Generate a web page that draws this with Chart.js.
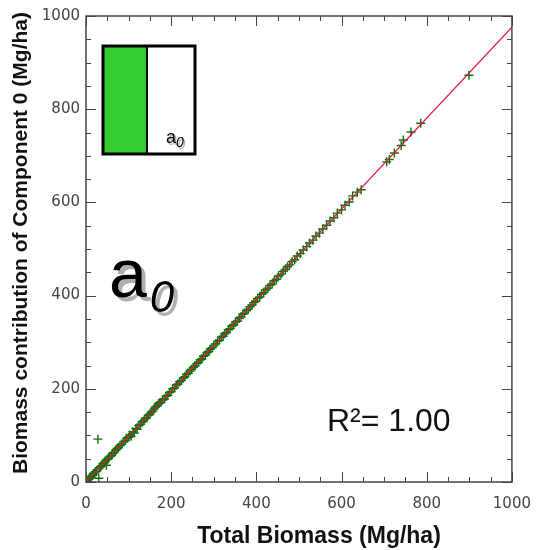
<!DOCTYPE html>
<html lang="en">
  <head>
    <meta charset="utf-8" />
    <title>Biomass contribution of Component 0</title>
    <script src="https://cdn.jsdelivr.net/npm/chart.js@4.4.1/dist/chart.umd.min.js"></script>
    <style>
      * {
        margin: 0;
        padding: 0;
      }
      body {
        width: 544px;
        height: 550px;
        background: #ffffff;
        overflow: hidden;
      }
      #plot {
        display: block;
      }
    </style>
  </head>
  <body>
    <canvas id="plot" width="544" height="550"></canvas>
    <script>
      // Total biomass (Mg/ha) for each sample
      const totalBiomass = [
        3, 5, 8, 10, 12, 15, 17, 20, 22, 25, 28, 30, 31, 34, 37, 40, 43, 45, 48, 50,
        53, 56, 60, 62, 66, 70, 73, 76, 80, 84, 88, 92, 96, 100,
        103, 106, 110, 113, 117, 120, 124, 128, 131, 135, 138, 142, 146, 150, 153, 157,
        160, 163, 167, 170, 173, 176, 180, 184, 188, 192, 196, 200,
        204, 208, 212, 216, 220, 224, 228, 232, 236, 240, 244, 248, 252, 256, 260, 264,
        268, 272, 276, 280, 284, 288, 292, 296, 300,
        305, 309, 313, 318, 322, 326, 330, 334, 338, 343, 347, 351, 355, 360, 364, 368,
        372, 377, 381, 385, 390, 394, 398,
        403, 408, 412, 417, 422, 427, 432, 437, 442, 447, 452, 458, 463, 468, 473, 478,
        484, 490, 496,
        503, 510, 518, 525, 533, 540, 548, 556, 565, 573, 582, 590, 600, 608, 618, 626,
        637, 646,
        706, 712, 724, 740, 745, 763, 786, 899
      ];
      // Biomass attributed to component 0 (Mg/ha), same order
      const component0 = [
        2, 5, 7, 11, 10, 14, 18, 19, 22, 23, 92, 8, 30, 33, 35, 40, 41, 45, 36, 49,
        51, 55, 57, 61, 63, 68, 72, 74, 78, 81, 86, 89, 94, 96,
        101, 98, 108, 105, 115, 113, 121, 124, 129, 131, 135, 138, 143, 146, 150, 152,
        157, 161, 164, 168, 170, 171, 176, 178, 184, 186, 192, 194,
        200, 202, 208, 210, 215, 218, 223, 226, 231, 233, 238, 242, 246, 249, 254, 257,
        262, 264, 270, 272, 278, 280, 285, 288, 293,
        297, 302, 304, 311, 313, 318, 321, 327, 329, 335, 338, 343, 345, 352, 354, 360,
        362, 368, 371, 376, 380, 385, 388,
        394, 397, 403, 406, 412, 416, 422, 425, 432, 435, 442, 446, 452, 456, 462, 466,
        473, 477, 485,
        490, 498, 505, 513, 519, 528, 534, 543, 551, 560, 567, 577, 584, 594, 601, 614,
        622, 627,
        687, 692, 706, 722, 734, 751, 770, 873
      ];
      // Least-squares fit line end points
      const fitX = [0, 1000];
      const fitY = [0, 976];

      const xTicks = [0, 200, 400, 600, 800, 1000];
      const yTicks = [0, 200, 400, 600, 800, 1000];
      const rSquared = "1.00";

      const scatterPoints = totalBiomass.map((v, i) => ({ x: v, y: component0[i] }));
      const fitPoints = fitX.map((v, i) => ({ x: v, y: fitY[i] }));

      const axisColor = "#444444";

      // Frame, inward ticks and all the free text of the panel
      const panelDecor = {
        id: "panelDecor",
        afterDraw(chart) {
          const { ctx, chartArea, scales } = chart;
          const { left, right, top, bottom } = chartArea;
          ctx.save();

          // frame round the plot area
          ctx.strokeStyle = axisColor;
          ctx.lineWidth = 1.5;
          ctx.strokeRect(left, top, right - left, bottom - top);

          // major ticks every 200, minor every 50, pointing inward on all four sides
          ctx.lineWidth = 1;
          for (let v = 0; v <= 1000; v += 50) {
            const len = v % 200 === 0 ? 10 : 5;
            const px = Math.round(scales.x.getPixelForValue(v)) + 0.5;
            const py = Math.round(scales.y.getPixelForValue(v)) + 0.5;
            ctx.beginPath();
            ctx.moveTo(px, bottom);
            ctx.lineTo(px, bottom - len);
            ctx.moveTo(px, top);
            ctx.lineTo(px, top + len);
            ctx.moveTo(left, py);
            ctx.lineTo(left + len, py);
            ctx.moveTo(right, py);
            ctx.lineTo(right - len, py);
            ctx.stroke();
          }

          // axis titles
          ctx.fillStyle = "#111111";
          ctx.font = "bold 23px 'Liberation Sans', Arial, sans-serif";
          ctx.textAlign = "center";
          ctx.textBaseline = "alphabetic";
          ctx.fillText("Total Biomass (Mg/ha)", 319, 543);

          ctx.save();
          ctx.translate(27, (top + bottom) / 2 - 6);
          ctx.rotate(-Math.PI / 2);
          ctx.font = "bold 21px 'Liberation Sans', Arial, sans-serif";
          ctx.fillText("Biomass contribution of Component 0 (Mg/ha)", 0, 0);
          ctx.restore();

          // component label "a" with italic subscript 0 and a grey drop shadow
          const drawLabel = (x, y, big, small, shadow) => {
            const parts = [
              ["#b0b0b0", shadow],
              ["#000000", 0]
            ];
            for (const [color, off] of parts) {
              ctx.fillStyle = color;
              ctx.textAlign = "left";
              ctx.font = big.font;
              ctx.fillText("a", x + off, y + off);
              const w = ctx.measureText("a").width;
              ctx.font = small.font;
              ctx.fillText("0", x + w + small.dx + off, y + small.dy + off);
            }
          };
          drawLabel(
            109, 297,
            { font: "68px 'Liberation Sans', Arial, sans-serif" },
            { font: "italic 44px 'Liberation Sans', Arial, sans-serif", dx: 3, dy: 15 },
            4
          );

          // legend swatch
          ctx.fillStyle = "#33cc33";
          ctx.fillRect(103, 46, 44, 108);
          ctx.strokeStyle = "#000000";
          ctx.lineWidth = 3;
          ctx.strokeRect(103, 46, 92, 108);
          ctx.lineWidth = 2;
          ctx.beginPath();
          ctx.moveTo(147, 46);
          ctx.lineTo(147, 154);
          ctx.stroke();
          drawLabel(
            166, 143,
            { font: "18px 'Liberation Sans', Arial, sans-serif" },
            { font: "italic 14px 'Liberation Sans', Arial, sans-serif", dx: 0, dy: 4 },
            1.5
          );

          // goodness of fit
          ctx.fillStyle = "#111111";
          ctx.textAlign = "left";
          ctx.font = "32px 'Liberation Sans', Arial, sans-serif";
          ctx.fillText("R\u00b2= " + rSquared, 327, 431);

          ctx.restore();
        }
      };

      const plainTick = (value) => String(value);

      new Chart(document.getElementById("plot"), {
        type: "scatter",
        plugins: [panelDecor],
        data: {
          datasets: [
            {
              type: "line",
              data: fitPoints,
              borderColor: "#e3153f",
              borderWidth: 1.2,
              pointRadius: 0,
              fill: false,
              order: 0
            },
            {
              data: scatterPoints,
              pointStyle: "cross",
              pointRadius: 4.5,
              borderColor: "#0f700f",
              borderWidth: 1.4,
              order: 1
            }
          ]
        },
        options: {
          responsive: false,
          animation: false,
          layout: { padding: { top: 16, right: 23, left: 0, bottom: 0 } },
          plugins: {
            legend: { display: false },
            tooltip: { enabled: false }
          },
          scales: {
            x: {
              type: "linear",
              min: 0,
              max: 1000,
              afterFit: (s) => { s.height = 68; },
              afterBuildTicks: (s) => { s.ticks = xTicks.map((v) => ({ value: v })); },
              grid: { display: false, drawTicks: false },
              border: { display: false },
              ticks: {
                padding: 13,
                maxRotation: 0,
                color: "#444444",
                callback: plainTick,
                font: { family: "'DejaVu Sans', sans-serif", size: 15 }
              }
            },
            y: {
              type: "linear",
              min: 0,
              max: 1000,
              afterFit: (s) => { s.width = 86; },
              afterBuildTicks: (s) => { s.ticks = yTicks.map((v) => ({ value: v })); },
              grid: { display: false, drawTicks: false },
              border: { display: false },
              ticks: {
                padding: 6,
                color: "#444444",
                callback: plainTick,
                font: { family: "'DejaVu Sans', sans-serif", size: 15 }
              }
            }
          }
        }
      });
    </script>
  </body>
</html>
